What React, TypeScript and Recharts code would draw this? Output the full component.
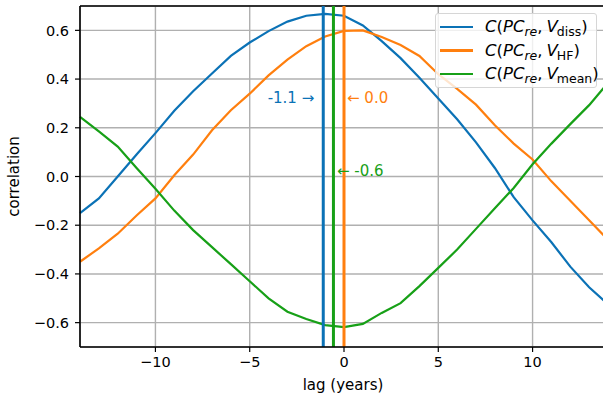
import React from 'react';
import {
  LineChart,
  Line,
  XAxis,
  YAxis,
  CartesianGrid,
  ReferenceLine,
  ReferenceDot,
  Legend,
} from 'recharts';

// lag in years
const lags = [-14, -13, -12, -11, -10, -9, -8, -7, -6, -5, -4, -3, -2, -1, 0, 1, 2, 3, 4, 5, 6, 7, 8, 9, 10, 11, 12, 13, 14];

const vDiss = [
  -0.15, -0.09, 0.0, 0.09, 0.178, 0.27, 0.35, 0.423, 0.495, 0.55, 0.597, 0.636, 0.66, 0.668, 0.66,
  0.62, 0.556, 0.486, 0.405, 0.32, 0.235, 0.14, 0.035, -0.085, -0.18, -0.27, -0.37, -0.455, -0.525,
];
const vHF = [
  -0.35, -0.295, -0.235, -0.16, -0.09, 0.005, 0.09, 0.19, 0.272, 0.34, 0.415, 0.48, 0.535, 0.575, 0.598,
  0.6, 0.573, 0.54, 0.495, 0.42, 0.36, 0.295, 0.21, 0.135, 0.07, -0.02, -0.1, -0.18, -0.26,
];
const vMean = [
  0.245, 0.185, 0.123, 0.035, -0.05, -0.14, -0.22, -0.29, -0.36, -0.43, -0.5, -0.555, -0.585, -0.61, -0.618,
  -0.605, -0.56, -0.52, -0.45, -0.375, -0.3, -0.215, -0.13, -0.047, 0.05, 0.135, 0.215, 0.293, 0.385,
];

const xTicks = [-10, -5, 0, 5, 10];
const yTicks = [-0.6, -0.4, -0.2, 0, 0.2, 0.4, 0.6];

// lag at max |correlation|
const peakDiss = -1.1;
const peakHF = 0.0;
const peakMean = -0.56;

const BLUE = '#0b72b6';
const ORANGE = '#ff7f0e';
const GREEN = '#17a017';
const FONT = '"DejaVu Sans", sans-serif';

const data = lags.map((lag, i) => ({ lag, diss: vDiss[i], hf: vHF[i], mean: vMean[i] }));

const fmt = (v: number, digits: number) => {
  const s = Math.abs(v).toFixed(digits);
  return v < -1e-9 ? '\u2212' + s : s;
};

const legendItems = [
  { color: BLUE, sub: 'diss' },
  { color: ORANGE, sub: 'HF' },
  { color: GREEN, sub: 'mean' },
];

const LegendBox = () => (
  <div
    style={{
      position: 'absolute',
      left: 435,
      top: 13,
      width: 162,
      height: 75,
      boxSizing: 'border-box',
      border: '1px solid #d6d6d6',
      borderRadius: 3,
      background: 'rgba(255,255,255,0.8)',
      fontFamily: FONT,
      fontSize: 16.5,
      color: '#000',
    }}
  >
    {legendItems.map((it, i) => (
      <div
        key={it.sub}
        style={{
          position: 'absolute',
          left: 4,
          top: 3 + i * 23.5,
          width: 170,
          height: 20,
          display: 'flex',
          alignItems: 'center',
          whiteSpace: 'nowrap',
          lineHeight: '20px',
        }}
      >
        <span style={{ display: 'inline-block', flexShrink: 0, width: 33, height: 2.6, background: it.color, marginRight: 12 }} />
        <span>
          <i>C</i>(<i>PC</i>
          <sub style={{ fontSize: 12.5, lineHeight: 0 }}>
            <i>re</i>
          </sub>
          ,<span style={{ marginLeft: 4 }} />
          <i>V</i>
          <sub style={{ fontSize: 12.5, lineHeight: 0, marginLeft: -1 }}>{it.sub}</sub>)
        </span>
      </div>
    ))}
  </div>
);

export default function App() {
  return (
    <div style={{ position: 'fixed', left: 0, top: 0, width: 603, height: 399, overflow: 'hidden', background: '#fff', fontFamily: FONT }}>
      <LineChart width={611} height={399} data={data} margin={{ top: 6, right: 3, left: 0, bottom: 0 }}>
        <CartesianGrid stroke="#b0b0b0" strokeWidth={1.4} />
        <XAxis
          dataKey="lag"
          type="number"
          domain={[-14, 14]}
          ticks={xTicks}
          tickFormatter={(v: number) => fmt(v, 0)}
          height={52}
          tickSize={5}
          tickMargin={5}
          axisLine={{ stroke: '#000', strokeWidth: 1.6 }}
          tickLine={{ stroke: '#000', strokeWidth: 1.2 }}
          tick={{ fontSize: 14.5, fill: '#000' }}
          label={{
            content: () => (
              <text x={343} y={390} textAnchor="middle" fontSize={15} fill="#000" fontFamily={FONT}>
                lag (years)
              </text>
            ),
          }}
        />
        <YAxis
          type="number"
          domain={[-0.7, 0.7]}
          ticks={yTicks}
          tickFormatter={(v: number) => fmt(v, 1)}
          width={80}
          tickSize={5}
          tickMargin={6}
          axisLine={{ stroke: '#000', strokeWidth: 1.6 }}
          tickLine={{ stroke: '#000', strokeWidth: 1.2 }}
          tick={{ fontSize: 14.5, fill: '#000' }}
          allowDataOverflow
          label={{
            content: () => (
              <text
                x={19}
                y={176.5}
                textAnchor="middle"
                fontSize={15}
                fill="#000"
                fontFamily={FONT}
                transform="rotate(-90 19 176.5)"
              >
                correlation
              </text>
            ),
          }}
        />
        <ReferenceLine y={0.7} stroke="#000" strokeWidth={1.6} />
        <Line type="linear" dataKey="diss" stroke={BLUE} strokeWidth={2.2} dot={false} isAnimationActive={false} />
        <Line type="linear" dataKey="hf" stroke={ORANGE} strokeWidth={2.2} dot={false} isAnimationActive={false} />
        <Line type="linear" dataKey="mean" stroke={GREEN} strokeWidth={2.2} dot={false} isAnimationActive={false} />
        <ReferenceLine x={peakDiss} stroke={BLUE} strokeWidth={3} />
        <ReferenceLine x={peakMean} stroke={GREEN} strokeWidth={3} />
        <ReferenceLine x={peakHF} stroke={ORANGE} strokeWidth={3} />
        <ReferenceDot
          x={peakDiss}
          y={0.324}
          r={0}
          fill="none"
          stroke="none"
          label={{ value: '-1.1 \u2192', position: 'left', offset: 9, fill: BLUE, fontSize: 15 }}
        />
        <ReferenceDot
          x={peakHF}
          y={0.324}
          r={0}
          fill="none"
          stroke="none"
          label={{ value: '\u2190 0.0', position: 'right', offset: 3, fill: ORANGE, fontSize: 15 }}
        />
        <ReferenceDot
          x={peakMean}
          y={0.023}
          r={0}
          fill="none"
          stroke="none"
          label={{ value: '\u2190 -0.6', position: 'right', offset: 3.5, fill: GREEN, fontSize: 15 }}
        />
        <Legend content={() => <LegendBox />} wrapperStyle={{ position: 'absolute', left: 0, top: 0, width: 0, height: 0 }} />
      </LineChart>
    </div>
  );
}
